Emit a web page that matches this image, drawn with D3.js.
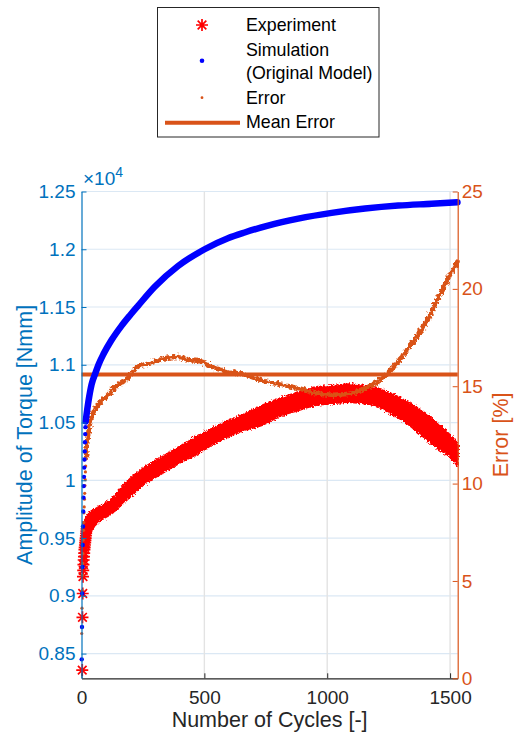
<!DOCTYPE html>
<html>
<head>
<meta charset="utf-8">
<script src="https://cdn.jsdelivr.net/npm/d3@7"></script>
<style>
  html, body { margin: 0; padding: 0; background: #fff; }
  svg { display: block; }
  svg text { font-family: "Liberation Sans", Arial, Helvetica, sans-serif; }
</style>
</head>
<body>
<svg id="chart" width="518" height="742"></svg>
<script>
// ---- data -------------------------------------------------------------
const cycleTicks  = [0, 500, 1000, 1500];
const torqueTicks = [0.85, 0.9, 0.95, 1, 1.05, 1.1, 1.15, 1.2, 1.25];
const torqueTickLabels = ["0.85", "0.9", "0.95", "1", "1.05", "1.1", "1.15", "1.2", "1.25"];
const errorTicks  = [0, 5, 10, 15, 20, 25];

// Experiment: first cycles as individual points (torque in 1e4 Nmm)
const expEarlyCycles = [3, 4, 5, 6, 7, 8, 9, 10, 11, 12, 13, 14, 15, 16, 17, 18, 19, 20, 21, 22];
const expEarlyTorque = [0.8357, 0.8814, 0.902, 0.9166, 0.922, 0.927, 0.931, 0.934, 0.937, 0.940, 0.942, 0.944, 0.946, 0.948, 0.950, 0.952, 0.954, 0.956, 0.958, 0.960];
// Experiment: scatter band of the remaining cycles (upper / lower envelope)
const expBandCycles = [12, 25, 54, 121, 189, 257, 325, 393, 461, 528, 596, 664, 732, 815, 882, 950, 1018, 1086, 1154, 1195, 1249, 1317, 1385, 1452, 1520, 1530];
const expBandUpper  = [0.963, 0.970, 0.9744, 0.9831, 0.999, 1.0106, 1.0192, 1.0279, 1.0366, 1.0438, 1.051, 1.0568, 1.064, 1.0712, 1.0756, 1.0799, 1.0813, 1.0828, 1.0813, 1.0799, 1.0756, 1.0683, 1.0596, 1.0481, 1.0336, 1.031];
const expBandLower  = [0.945, 0.952, 0.9614, 0.9716, 0.9846, 0.9976, 1.0062, 1.0149, 1.0221, 1.0308, 1.038, 1.0438, 1.0481, 1.0568, 1.0611, 1.0654, 1.0669, 1.0683, 1.0669, 1.0654, 1.0596, 1.051, 1.0394, 1.0279, 1.0163, 1.013];

// Simulation (original model)
const simEarlyCycles = [1, 2, 3, 4, 5, 6, 7, 8, 9, 10, 11, 12, 13, 14, 15, 16, 17];
const simEarlyTorque = [0.845, 0.873, 0.902, 0.925, 0.944, 0.960, 0.973, 0.985, 0.995, 1.003, 1.011, 1.018, 1.025, 1.033, 1.040, 1.046, 1.051];
const simCycles = [17, 20, 28, 41, 57, 70, 90, 121, 162, 200, 230, 298, 393, 501, 596, 664, 759, 882, 1018, 1154, 1289, 1425, 1530];
const simTorque = [1.051, 1.056, 1.068, 1.083, 1.093, 1.1005, 1.1095, 1.121, 1.1335, 1.1435, 1.151, 1.1675, 1.1855, 1.200, 1.2095, 1.2145, 1.2205, 1.2265, 1.2315, 1.2352, 1.2378, 1.2394, 1.2407];

// Error [%]
const errEarlyCycles = [1, 2, 3, 4, 5, 6, 7, 8, 9, 10, 11, 12, 13, 14, 15, 16, 17, 18];
const errEarlyValues = [2.3, 3.6, 4.5, 5.3, 5.9, 6.4, 7.1, 7.6, 8.0, 8.5, 8.8, 9.2, 9.5, 9.9, 10.2, 10.6, 10.9, 11.3];
const errCycles = [18, 22, 30, 40, 67, 108, 149, 189, 230, 284, 339, 393, 433, 488, 542, 596, 664, 732, 815, 882, 950, 1018, 1086, 1154, 1208, 1249, 1289, 1330, 1371, 1411, 1452, 1493, 1530];
const errValues = [11.3, 12.0, 12.8, 13.36, 14.04, 14.56, 15.07, 15.42, 16.01, 16.19, 16.44, 16.5, 16.36, 16.27, 15.93, 15.76, 15.59, 15.3, 15.07, 14.9, 14.65, 14.56, 14.6, 14.9, 15.24, 15.67, 16.27, 16.96, 17.64, 18.5, 19.53, 20.56, 21.4];
const meanError = 15.6;

const legendLabels = ["Experiment", "Simulation", "(Original Model)", "Error", "Mean Error"];

// ---- colours & layout -------------------------------------------------
const leftColor = "#0072BD", rightColor = "#D95319";
const expColor = "#FF0000", simColor = "#0000FF", errColor = "#D95319";
const plot = { left: 81.5, right: 457.7, top: 191.5, bottom: 678.3 };
const FONT = "'Liberation Sans', Arial, Helvetica, sans-serif";

const svg = d3.select("#chart");

const x = d3.scaleLinear().domain([0, 1531]).range([plot.left, plot.right]);
const yL = d3.scaleLinear().domain([0.8286, 1.25]).range([plot.bottom, plot.top]);
const yR = d3.scaleLinear().domain([0, 25]).range([plot.bottom, plot.top]);

const defs = svg.append("defs");
function roughFilter(id, freq, scale, seed) {
  const f = defs.append("filter").attr("id", id)
    .attr("x", "-5%").attr("y", "-5%").attr("width", "110%").attr("height", "110%");
  f.append("feTurbulence").attr("type", "fractalNoise").attr("baseFrequency", freq)
    .attr("numOctaves", 2).attr("seed", seed).attr("result", "noise");
  f.append("feDisplacementMap").attr("in", "SourceGraphic").attr("in2", "noise")
    .attr("scale", scale).attr("xChannelSelector", "R").attr("yChannelSelector", "G");
}
roughFilter("roughBand", 0.55, 5, 7);
roughFilter("roughErr", 0.35, 6, 3);

// ---- grid ---------------------------------------------------------------
const grid = svg.append("g");
grid.selectAll("line.h").data(torqueTicks).join("line")
  .attr("x1", plot.left).attr("x2", plot.right)
  .attr("y1", d => yL(d)).attr("y2", d => yL(d))
  .attr("stroke", "#dbe8f4").attr("stroke-width", 1.2);
grid.selectAll("line.v").data(cycleTicks.filter(d => d > 0)).join("line")
  .attr("x1", d => x(d)).attr("x2", d => x(d))
  .attr("y1", plot.top).attr("y2", plot.bottom)
  .attr("stroke", "#e3e3e3").attr("stroke-width", 1.4);

// ---- asterisk marker path -------------------------------------------------
function asterisk(s) {
  const d = s * 0.72;
  return `M${-s},0L${s},0M0,${-s}L0,${s}M${-d},${-d}L${d},${d}M${-d},${d}L${d},${-d}`;
}

// ---- experiment -------------------------------------------------------------
const expBand = expBandCycles.map((c, i) => ({ c, hi: expBandUpper[i], lo: expBandLower[i] }));
svg.append("path").datum(expBand)
  .attr("d", d3.area().curve(d3.curveMonotoneX)
    .x(d => x(d.c)).y0(d => yL(d.lo)).y1(d => yL(d.hi)))
  .attr("fill", expColor).attr("stroke", expColor).attr("stroke-width", 3)
  .attr("stroke-linejoin", "round").attr("filter", "url(#roughBand)");

svg.append("g").selectAll("path").data(expEarlyCycles.map((c, i) => ({ c, v: expEarlyTorque[i] })))
  .join("path")
  .attr("transform", d => `translate(${x(d.c)},${yL(d.v)})`)
  .attr("d", asterisk(6))
  .attr("stroke", expColor).attr("stroke-width", 1.7).attr("fill", "none");

// ---- error --------------------------------------------------------------
svg.append("path").datum(errCycles.map((c, i) => ({ c, v: errValues[i] })))
  .attr("d", d3.line().curve(d3.curveMonotoneX).x(d => x(d.c)).y(d => yR(d.v)))
  .attr("fill", "none").attr("stroke", errColor).attr("stroke-width", 4.6)
  .attr("stroke-linecap", "round").attr("filter", "url(#roughErr)");

svg.append("g").selectAll("circle").data(errEarlyCycles.map((c, i) => ({ c, v: errEarlyValues[i] })))
  .join("circle")
  .attr("cx", d => x(d.c)).attr("cy", d => yR(d.v)).attr("r", 1.6)
  .attr("fill", errColor);

// mean error
svg.append("line")
  .attr("x1", x(0)).attr("x2", x(1531))
  .attr("y1", yR(meanError)).attr("y2", yR(meanError))
  .attr("stroke", errColor).attr("stroke-width", 4);

// ---- simulation -----------------------------------------------------------
svg.append("path").datum(simCycles.map((c, i) => ({ c, v: simTorque[i] })))
  .attr("d", d3.line().curve(d3.curveMonotoneX).x(d => x(d.c)).y(d => yL(d.v)))
  .attr("fill", "none").attr("stroke", simColor).attr("stroke-width", 6.5)
  .attr("stroke-linecap", "round");

svg.append("g").selectAll("circle").data(simEarlyCycles.map((c, i) => ({ c, v: simEarlyTorque[i] })))
  .join("circle")
  .attr("cx", d => x(d.c)).attr("cy", d => yL(d.v)).attr("r", 2.2)
  .attr("fill", simColor);

// ---- axes ---------------------------------------------------------------
const tickFont = 19;

// bottom axis
const xAxis = svg.append("g").attr("transform", `translate(0,${plot.bottom})`)
  .call(d3.axisBottom(x).tickValues(cycleTicks).tickFormat(d3.format("d"))
    .tickSizeInner(-5).tickSizeOuter(0).tickPadding(12));
xAxis.select(".domain").attr("stroke", "#262626").attr("stroke-width", 1.2);
xAxis.selectAll(".tick line").attr("stroke", "#262626");
xAxis.selectAll(".tick text").attr("fill", "#262626").attr("font-size", tickFont)
  .attr("font-family", FONT);

// left axis
const yAxisL = svg.append("g").attr("transform", `translate(${plot.left},0)`)
  .call(d3.axisLeft(yL).tickValues(torqueTicks).tickFormat((d, i) => torqueTickLabels[i])
    .tickSizeInner(-5).tickSizeOuter(0).tickPadding(6));
yAxisL.select(".domain").attr("stroke", leftColor).attr("stroke-width", 1.2);
yAxisL.selectAll(".tick line").attr("stroke", leftColor);
yAxisL.selectAll(".tick text").attr("fill", leftColor).attr("font-size", tickFont)
  .attr("font-family", FONT);

// right axis
const yAxisR = svg.append("g").attr("transform", `translate(${plot.right},0)`)
  .call(d3.axisRight(yR).tickValues(errorTicks).tickSizeInner(-5).tickSizeOuter(0).tickPadding(4));
yAxisR.select(".domain").attr("stroke", rightColor).attr("stroke-width", 1.2);
yAxisR.selectAll(".tick line").attr("stroke", rightColor);
yAxisR.selectAll(".tick text").attr("fill", rightColor).attr("font-size", tickFont)
  .attr("font-family", FONT);

// exponent label
const expo = svg.append("text").attr("x", 83).attr("y", 184.5)
  .attr("fill", leftColor).attr("font-size", 19).attr("font-family", FONT);
expo.append("tspan").text("\u00d710");
expo.append("tspan").attr("font-size", 14).attr("dy", -8).text("4");

// axis titles
const labelFont = 21.5;
svg.append("text").attr("x", (plot.left + plot.right) / 2).attr("y", 727)
  .attr("text-anchor", "middle").attr("font-size", labelFont).attr("fill", "#262626")
  .attr("font-family", FONT).text("Number of Cycles [-]");
svg.append("text").attr("transform", `translate(32,${(plot.top + plot.bottom) / 2}) rotate(-90)`)
  .attr("text-anchor", "middle").attr("font-size", labelFont).attr("fill", leftColor)
  .attr("font-family", FONT).text("Amplitude of Torque [Nmm]");
svg.append("text").attr("transform", `translate(508,${(plot.top + plot.bottom) / 2}) rotate(-90)`)
  .attr("text-anchor", "middle").attr("font-size", labelFont).attr("fill", rightColor)
  .attr("font-family", FONT).text("Error [%]");

// ---- legend -----------------------------------------------------------------
const lg = svg.append("g");
lg.append("rect").attr("x", 157.5).attr("y", 7.5).attr("width", 221.5).attr("height", 129.5)
  .attr("fill", "#fff").attr("stroke", "#262626").attr("stroke-width", 1);
const legendFont = 17.8, textX = 246, markX = 202;
const baselines = [30.8, 55.7, 79, 104, 128.3];
legendLabels.forEach((t, i) => {
  lg.append("text").attr("x", textX).attr("y", baselines[i])
    .attr("font-size", legendFont).attr("fill", "#000").attr("font-family", FONT).text(t);
});
lg.append("path").attr("transform", `translate(${markX},25)`).attr("d", asterisk(6))
  .attr("stroke", expColor).attr("stroke-width", 1.7).attr("fill", "none");
lg.append("circle").attr("cx", markX).attr("cy", 60.7).attr("r", 2.3).attr("fill", simColor);
lg.append("circle").attr("cx", markX).attr("cy", 97.7).attr("r", 1.4).attr("fill", errColor);
lg.append("line").attr("x1", 165).attr("x2", 240).attr("y1", 122.7).attr("y2", 122.7)
  .attr("stroke", errColor).attr("stroke-width", 4);
</script>
</body>
</html>
